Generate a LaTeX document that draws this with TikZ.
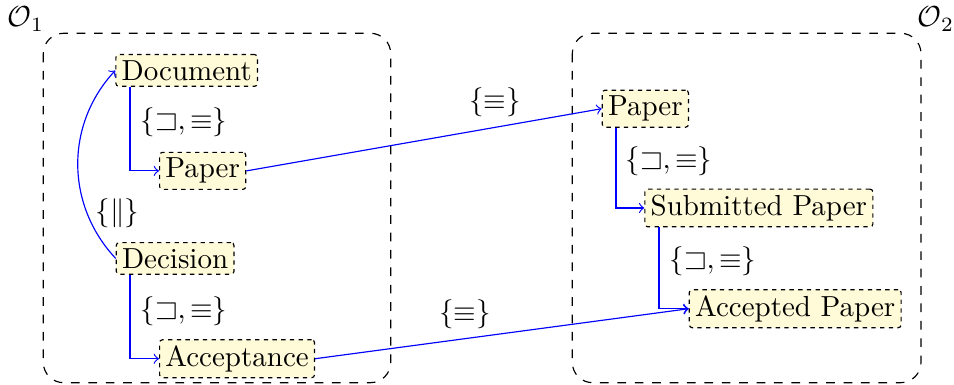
\documentclass[tikz,border=0pt]{standalone}
\usepackage{amssymb}
\definecolor{nodefill}{RGB}{255,250,215}
\begin{document}
\begin{tikzpicture}[x=0.34483pt,y=-0.34483pt,
  concept/.style={draw, dash pattern=on 1.5pt off 1.5pt, fill=nodefill, rounded corners=1pt, inner sep=2pt, anchor=base west},
  rel/.style={blue, ->, line width=0.4pt},
  onto/.style={draw, dashed, rounded corners=7pt, line width=0.4pt},
  lab/.style={inner sep=0pt}]
\useasboundingbox (0,0) rectangle (954,385);
% ontology containers
\draw[onto] (43.3,33.3) rectangle (390.7,382.7);
\draw[onto] (572.3,33.3) rectangle (921,382.7);
\node[lab] (o1lab) at (26,19) {$\mathcal{O}_1$};
\node[lab] (o2lab) at (936,19) {$\mathcal{O}_2$};
% concepts
\node[concept] (doc) at (115.3,80.2) {Document};
\node[concept] (paperA) at (159,178) {Paper};
\node[concept] (dec) at (115.7,268.2) {Decision};
\node[concept] (acc) at (159,366.3) {Acceptance};
\node[concept] (paperB) at (601.7,115.8) {Paper};
\node[concept] (sub) at (644.3,215.4) {Submitted Paper};
\node[concept] (accp) at (688.7,316.3) {Accepted Paper};
% helper coordinates for vertical connectors
\coordinate (v1) at (130,0);
\coordinate (v2) at (130,0);
\coordinate (v3) at (616,0);
\coordinate (v4) at (659,0);
% connectors
\draw[rel] (v1 |- doc.south) |- (paperA.west);
\draw[rel] (v2 |- dec.south) |- (acc.west);
\draw[rel] (v3 |- paperB.south) |- (sub.west);
\draw[rel] (v4 |- sub.south) |- (accp.west);
\draw[rel] (dec.west) to[bend left=43] (doc.west);
\draw[rel] (paperA.east) -- (paperB.west);
\draw[rel] (acc.east) -- (accp.west);
% labels
\node[lab] (l1) at (184,122.5) {$\{\sqsupset,\equiv\}$};
\node[lab] (l2) at (184,311) {$\{\sqsupset,\equiv\}$};
\node[lab] (l3) at (669,161) {$\{\sqsupset,\equiv\}$};
\node[lab] (l4) at (713,261.5) {$\{\sqsupset,\equiv\}$};
\node[lab] (l5) at (117.5,213) {$\{\|\}$};
\node[lab] (l6) at (495,102) {$\{\equiv\}$};
\node[lab] (l7) at (465,314) {$\{\equiv\}$};
\end{tikzpicture}
\end{document}
